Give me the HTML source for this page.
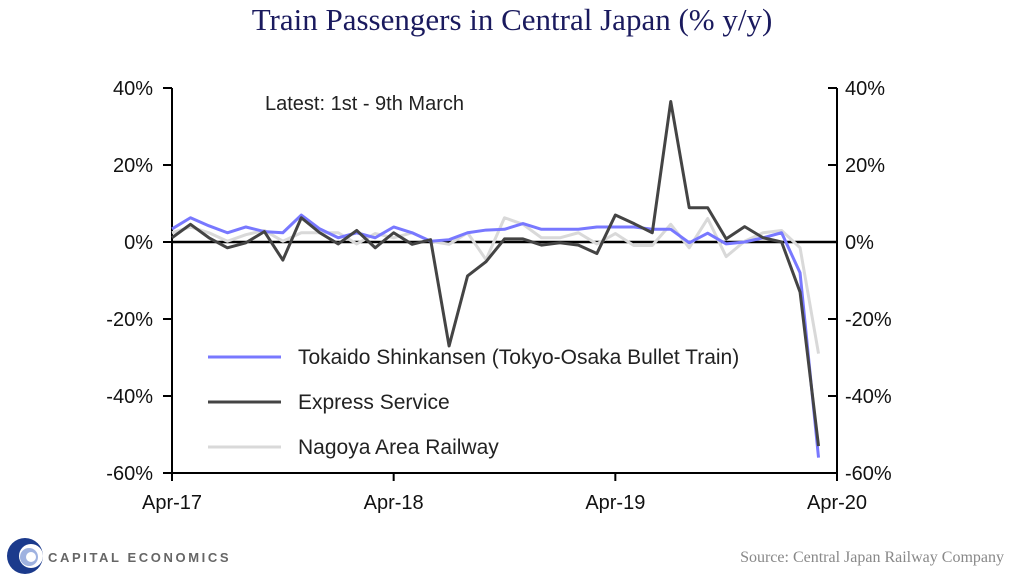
<!DOCTYPE html>
<html><head><meta charset="utf-8"><style>
body{margin:0;background:#fff;width:1024px;height:583px;overflow:hidden;font-family:"Liberation Sans",sans-serif}
</style></head><body>
<svg width="1024" height="583" id="c">
<text x="512" y="30" text-anchor="middle" font-family="Liberation Serif" font-size="31" fill="#1a1a5e">Train Passengers in Central Japan (% y/y)</text>
<text x="265" y="110" font-size="20" fill="#222">Latest:  1st - 9th March</text>
<text x="1004" y="562" text-anchor="end" font-family="Liberation Serif" font-size="16" fill="#888">Source: Central Japan Railway Company</text>
<g>
<circle cx="25" cy="556" r="18" fill="#1b3a8c"/><circle cx="31" cy="556" r="12" fill="#fff"/>
<circle cx="29" cy="557" r="9" fill="#9fb2e0"/><circle cx="31" cy="557" r="5" fill="#fff"/>
<text x="48" y="562" font-size="13" font-weight="bold" fill="#666" letter-spacing="2.6">CAPITAL ECONOMICS</text>
</g>
<g id="plot"></g>
</svg>
<script>
const months=["Apr-17","Apr-18","Apr-19","Apr-20"];
const yTicks=[40,20,0,-20,-40,-60];
const tokaido=[3.4,6.3,4.2,2.4,3.9,2.7,2.4,7,3.4,1.1,2.4,1.1,3.9,2.4,0.2,0.6,2.4,3.1,3.3,4.8,3.3,3.3,3.3,3.9,3.9,3.9,3.3,3.3,-0.2,2.3,-0.5,0,1.1,2.4,-8,-56];
const express=[1.1,4.6,1.1,-1.5,-0.2,2.7,-4.7,6.3,2.4,-0.5,3,-1.5,2.4,-0.6,0.6,-27,-8.8,-5.1,0.8,0.8,-0.8,-0.2,-0.8,-3,7,4.8,2.4,36.5,8.9,8.9,0.8,4,1.1,0,-13,-53];
const nagoya=[2.4,3.9,2.4,0.2,1.9,3,0.2,2.4,2.4,2.4,-0.5,2.2,1.1,2.4,0.2,-0.6,2.4,-4.6,6.3,4.6,1.1,1.1,2.4,-0.5,2.2,-0.9,-0.9,4.6,-1.5,6.1,-3.8,0.2,2.4,3,-1.5,-29];
const legendNames=["Tokaido Shinkansen (Tokyo-Osaka Bullet Train)","Express Service","Nagoya Area Railway"];
const X0=172,X1=837,Y0=88,Y1=473;
const xs=i=>X0+i*(X1-X0)/36;
const ys=v=>Y0+(40-v)*(Y1-Y0)/100;
const g=document.getElementById('plot');const NS="http://www.w3.org/2000/svg";
function el(t,a,p){const e=document.createElementNS(NS,t);for(const k in a)e.setAttribute(k,a[k]);(p||g).appendChild(e);return e;}
yTicks.forEach(v=>{
 let t=el('line',{x1:163,x2:X0,y1:ys(v),y2:ys(v),stroke:'#000','stroke-width':2});
 
 
 t=el('line',{x1:X1-9,x2:X1,y1:ys(v),y2:ys(v),stroke:'#000','stroke-width':2});
 
 
 let l=el('text',{x:153,y:ys(v)+7,'text-anchor':'end','font-size':20,fill:'#111'});l.textContent=v+'%';
 
 
 l=el('text',{x:845,y:ys(v)+7,'font-size':20,fill:'#111'});l.textContent=v+'%';
 
 
});
months.forEach((m,k)=>{
 const x=xs(k*12);
 let t=el('line',{x1:x,x2:x,y1:Y1,y2:Y1+8,stroke:'#000','stroke-width':2});
 
 
 let l=el('text',{x:x,y:Y1+36,'text-anchor':'middle','font-size':20,fill:'#111'});l.textContent=m;
 
 
});
let a=el('line',{x1:X0,x2:X0,y1:Y0,y2:Y1,stroke:'#000','stroke-width':2});

a=el('line',{x1:X1,x2:X1,y1:Y0,y2:Y1,stroke:'#000','stroke-width':2});

a=el('line',{x1:X0,x2:X1,y1:Y1,y2:Y1,stroke:'#000','stroke-width':2});

a=el('line',{x1:X0,x2:X1,y1:ys(0),y2:ys(0),stroke:'#000','stroke-width':2.5});

const series=[[nagoya,'#d9d9d9','nagoya-line'],[tokaido,'#7878ff','tokaido-line'],[express,'#444','express-line']];
series.forEach(([d,c,n])=>{
 const p=el('polyline',{points:d.map((v,i)=>xs(i)+','+ys(v)).join(' '),fill:'none',stroke:c,'stroke-width':3,'stroke-linejoin':'round'});
 
 
});
const legCols=['#7878ff','#444','#d9d9d9'];
legendNames.forEach((nm,k)=>{
 const y=357+k*45;
 const ln=el('line',{x1:208,x2:281,y1:y,y2:y,stroke:legCols[k],'stroke-width':3});
 
 
 const t=el('text',{x:298,y:y+7,'font-size':21,fill:'#222'});t.textContent=nm;
 
 
});
</script>
</body></html>
